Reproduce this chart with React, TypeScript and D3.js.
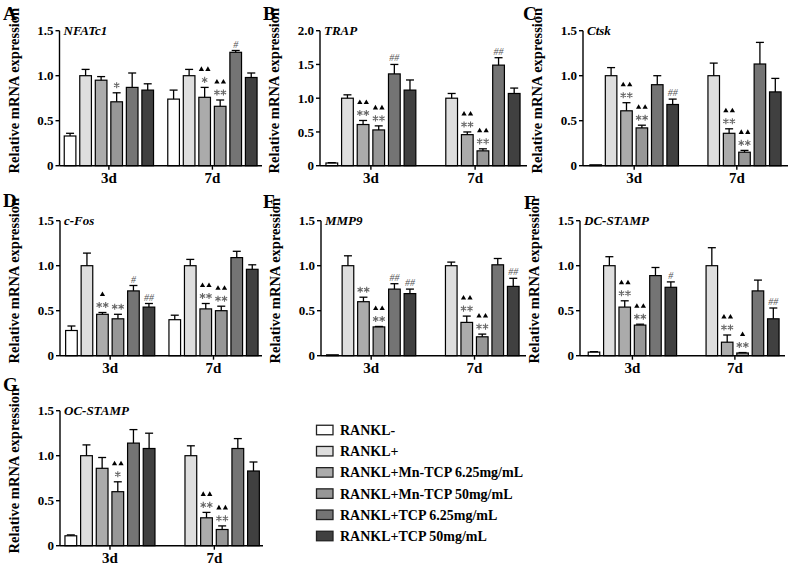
import React from "react";
import * as d3 from "d3";

const groups = ["3d", "7d"];
const treatments = [
  "RANKL-",
  "RANKL+",
  "RANKL+Mn-TCP 6.25mg/mL",
  "RANKL+Mn-TCP 50mg/mL",
  "RANKL+TCP 6.25mg/mL",
  "RANKL+TCP 50mg/mL",
];
const fillColors = ["#ffffff", "#dedede", "#ababab", "#979797", "#747474", "#404040"];

// NFATc1
const nfatc1Mean = [[0.33, 1.0, 0.95, 0.71, 0.87, 0.84], [0.74, 1.0, 0.76, 0.66, 1.26, 0.98]];
const nfatc1Err = [[0.03, 0.07, 0.04, 0.1, 0.16, 0.07], [0.1, 0.07, 0.11, 0.07, 0.02, 0.05]];
const nfatc1Sig = [["", "", "", "*", "", ""], ["", "", "^^*", "^^**", "#", ""]];
// TRAP
const trapMean = [[0.04, 1.0, 0.61, 0.53, 1.36, 1.12], [0.0, 1.0, 0.46, 0.22, 1.49, 1.07]];
const trapErr = [[0.005, 0.05, 0.06, 0.06, 0.14, 0.15], [0, 0.07, 0.04, 0.03, 0.11, 0.08]];
const trapSig = [["", "", "^^**", "^^**", "##", ""], ["", "", "^^**", "^^**", "##", ""]];
// Ctsk
const ctskMean = [[0.01, 1.0, 0.61, 0.42, 0.9, 0.68], [0.0, 1.0, 0.36, 0.15, 1.13, 0.82]];
const ctskErr = [[0.003, 0.09, 0.09, 0.03, 0.1, 0.06], [0, 0.14, 0.05, 0.02, 0.24, 0.15]];
const ctskSig = [["", "", "^^**", "^^**", "", "##"], ["", "", "^^**", "^^**", "", ""]];
// c-Fos
const cfosMean = [[0.28, 1.0, 0.46, 0.41, 0.72, 0.54], [0.4, 1.0, 0.52, 0.5, 1.09, 0.96]];
const cfosErr = [[0.05, 0.14, 0.02, 0.05, 0.06, 0.04], [0.05, 0.07, 0.06, 0.05, 0.07, 0.05]];
const cfosSig = [["", "", "^**", "**", "#", "##"], ["", "", "^^**", "^^**", "", ""]];
// MMP9
const mmp9Mean = [[0.01, 1.0, 0.6, 0.32, 0.74, 0.69], [0.0, 1.0, 0.37, 0.21, 1.01, 0.77]];
const mmp9Err = [[0.003, 0.11, 0.05, 0.005, 0.06, 0.05], [0, 0.04, 0.07, 0.03, 0.07, 0.09]];
const mmp9Sig = [["", "", "**", "^^**", "##", "##"], ["", "", "^^**", "^^**", "", "##"]];
// DC-STAMP
const dcMean = [[0.04, 1.0, 0.54, 0.34, 0.89, 0.76], [0.0, 1.0, 0.15, 0.03, 0.72, 0.41]];
const dcErr = [[0.005, 0.1, 0.07, 0.01, 0.09, 0.06], [0, 0.2, 0.08, 0.005, 0.12, 0.12]];
const dcSig = [["", "", "^^**", "^^**", "", "#"], ["", "", "^^**", "^**", "", "##"]];
// OC-STAMP
const ocMean = [[0.11, 1.0, 0.86, 0.6, 1.14, 1.08], [0.0, 1.0, 0.31, 0.18, 1.08, 0.83]];
const ocErr = [[0.01, 0.12, 0.12, 0.11, 0.15, 0.17], [0, 0.11, 0.06, 0.04, 0.11, 0.1]];
const ocSig = [["", "", "", "^^*", "", ""], ["", "", "^^**", "^^**", "", ""]];

const ticks15 = [0, 0.5, 1.0, 1.5];
const ticks20 = [0, 0.5, 1.0, 1.5, 2.0];

const panels = [
  { letter: "A", gene: "NFATc1", mean: nfatc1Mean, err: nfatc1Err, sig: nfatc1Sig, ymax: 1.5, ticks: ticks15, lx: 3, ly: 19.5, axisX: 59.5, axisEnd: 262, r0: 62.3, r1: 259, y0: 165.7 },
  { letter: "B", gene: "TRAP", mean: trapMean, err: trapErr, sig: trapSig, ymax: 2.0, ticks: ticks20, lx: 263, ly: 19.5, axisX: 320, axisEnd: 527, r0: 324, r1: 522, y0: 165.7 },
  { letter: "C", gene: "Ctsk", mean: ctskMean, err: ctskErr, sig: ctskSig, ymax: 1.5, ticks: ticks15, lx: 523, ly: 19.5, axisX: 583, axisEnd: 788, r0: 588, r1: 783, y0: 165.7 },
  { letter: "D", gene: "c-Fos", mean: cfosMean, err: cfosErr, sig: cfosSig, ymax: 1.5, ticks: ticks15, lx: 3, ly: 207, axisX: 60, axisEnd: 262, r0: 63.7, r1: 260, y0: 355.7 },
  { letter: "E", gene: "MMP9", mean: mmp9Mean, err: mmp9Err, sig: mmp9Sig, ymax: 1.5, ticks: ticks15, lx: 263, ly: 208, axisX: 321, axisEnd: 526, r0: 324.7, r1: 521, y0: 355.7 },
  { letter: "F", gene: "DC-STAMP", mean: dcMean, err: dcErr, sig: dcSig, ymax: 1.5, ticks: ticks15, lx: 524, ly: 209, axisX: 580, axisEnd: 785, r0: 586.3, r1: 781, y0: 355.7 },
  { letter: "G", gene: "OC-STAMP", mean: ocMean, err: ocErr, sig: ocSig, ymax: 1.5, ticks: ticks15, lx: 3, ly: 391, axisX: 60, axisEnd: 263, r0: 63, r1: 261.3, y0: 545.7 },
];

const FONT = "'Liberation Serif', 'Times New Roman', serif";
const triPath = d3.symbol().type(d3.symbolTriangle).size(12)() as string;
const asteriskType = (d3 as any).symbolAsterisk ?? d3.symbolCross;
const starPath = d3.symbol().type(asteriskType).size(26)() as string;

function Panel({ p }: { p: any }) {
  const y = d3.scaleLinear().domain([0, p.ymax]).range([p.y0, p.y0 - 135]);
  const xg = d3.scaleBand().domain(groups).range([p.r0, p.r1]).paddingInner(0.1).paddingOuter(0);
  const xb = d3
    .scaleBand()
    .domain(treatments)
    .range([0, xg.bandwidth()])
    .paddingInner(0.25)
    .paddingOuter(0.125);
  const bw = xb.bandwidth();
  return (
    <g>
      <text x={p.lx} y={p.ly} fontFamily={FONT} fontWeight="bold" fontSize={19}>
        {p.letter}
      </text>
      <text
        transform={`translate(${p.axisX - 41},${p.y0 - 75}) rotate(-90)`}
        textAnchor="middle"
        fontFamily={FONT}
        fontWeight="bold"
        fontSize={14.5}
      >
        Relative mRNA expression
      </text>
      <text x={p.axisX + 4} y={p.y0 - 135 + 4.5} fontFamily={FONT} fontWeight="bold" fontStyle="italic" fontSize={13}>
        {p.gene}
      </text>
      {groups.map((g, gi) => (
        <g key={g}>
          {treatments.map((t, ti) => {
            const v = p.mean[gi][ti];
            const e = p.err[gi][ti];
            const x = (xg(g) as number) + (xb(t) as number);
            const cx = x + bw / 2;
            const yTop = y(v);
            const yErr = y(v + e);
            const sig: string = p.sig[gi][ti];
            const nTri = (sig.match(/\^/g) || []).length;
            const nStar = (sig.match(/\*/g) || []).length;
            const hashes = (sig.match(/#/g) || []).join("");
            return (
              <g key={t}>
                {v > 0 && (
                  <rect
                    x={x}
                    y={yTop}
                    width={bw}
                    height={p.y0 - yTop}
                    fill={fillColors[ti]}
                    stroke="#000"
                    strokeWidth={1.2}
                  />
                )}
                {e > 0.004 && (
                  <g stroke="#000" strokeWidth={1.3}>
                    <line x1={cx} x2={cx} y1={yTop} y2={yErr} />
                    <line x1={cx - 4} x2={cx + 4} y1={yErr} y2={yErr} />
                  </g>
                )}
                {d3.range(nStar).map((k) => (
                  <path
                    key={"s" + k}
                    d={starPath}
                    transform={`translate(${cx + (k - (nStar - 1) / 2) * 6.5},${yErr - 7.5})`}
                    fill="none"
                    stroke="#666"
                    strokeWidth={1.1}
                  />
                ))}
                {d3.range(nTri).map((k) => (
                  <path
                    key={"t" + k}
                    d={triPath}
                    transform={`translate(${cx + (k - (nTri - 1) / 2) * 6.5},${yErr - 18})`}
                    fill="#000"
                  />
                ))}
                {hashes && (
                  <text
                    x={cx}
                    y={yErr - 3}
                    textAnchor="middle"
                    fontFamily={FONT}
                    fontStyle="italic"
                    fontSize={10}
                    fill="#555"
                  >
                    {hashes}
                  </text>
                )}
              </g>
            );
          })}
        </g>
      ))}
      <g stroke="#000" strokeWidth={1.4} fill="none">
        <line x1={p.axisX} x2={p.axisX} y1={p.y0} y2={p.y0 - 135} />
        <line x1={p.axisX} x2={p.axisEnd} y1={p.y0} y2={p.y0} />
        {p.ticks.map((t: number) => (
          <line key={t} x1={p.axisX - 4} x2={p.axisX} y1={y(t)} y2={y(t)} />
        ))}
        {groups.map((g) => {
          const gx = (xg(g) as number) + xg.bandwidth() / 2;
          return <line key={g} x1={gx} x2={gx} y1={p.y0} y2={p.y0 + 4} />;
        })}
      </g>
      {p.ticks.map((t: number) => (
        <text
          key={t}
          x={p.axisX - 6}
          y={y(t)}
          dy="0.35em"
          textAnchor="end"
          fontFamily={FONT}
          fontWeight="bold"
          fontSize={13}
        >
          {t === 0 ? "0" : t.toFixed(1)}
        </text>
      ))}
      {groups.map((g) => (
        <text
          key={g}
          x={(xg(g) as number) + xg.bandwidth() / 2}
          y={p.y0 + 17}
          textAnchor="middle"
          fontFamily={FONT}
          fontWeight="bold"
          fontSize={15}
        >
          {g}
        </text>
      ))}
    </g>
  );
}

function Legend() {
  const ly = d3.scaleLinear().domain([0, treatments.length - 1]).range([430, 536]);
  return (
    <g>
      {treatments.map((t, i) => (
        <g key={t}>
          <rect
            x={316.5}
            y={ly(i) - 4.75}
            width={16.5}
            height={9.5}
            fill={fillColors[i]}
            stroke="#222"
            strokeWidth={1.3}
          />
          <text x={340} y={ly(i) + 5} fontFamily={FONT} fontWeight="bold" fontSize={14}>
            {t}
          </text>
        </g>
      ))}
    </g>
  );
}

export default function App() {
  return (
    <svg
      width={790}
      height={568}
      style={{ position: "absolute", left: 0, top: 0, background: "#fff" }}
    >
      <rect width={790} height={568} fill="#fff" />
      {panels.map((p) => (
        <Panel key={p.letter} p={p} />
      ))}
      <Legend />
    </svg>
  );
}
